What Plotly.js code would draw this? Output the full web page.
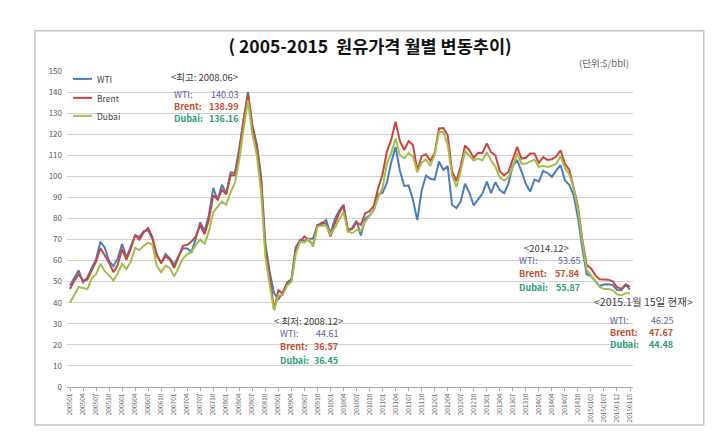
<!DOCTYPE html>
<html>
<head>
<meta charset="utf-8">
<script src="https://cdn.plot.ly/plotly-3.0.1.min.js"></script>
<style>
html,body{margin:0;padding:0;background:#ffffff;}
#chart{width:727px;height:439px;}
</style>
</head>
<body>
<div id="chart"></div>
<script>
// Category labels: month-end points 2005.01-2014.12, then daily points in January 2015
const periods = [
"200501","200502","200503","200504","200505","200506","200507","200508","200509","200510","200511","200512",
"200601","200602","200603","200604","200605","200606","200607","200608","200609","200610","200611","200612",
"200701","200702","200703","200704","200705","200706","200707","200708","200709","200710","200711","200712",
"200801","200802","200803","200804","200805","200806","200807","200808","200809","200810","200811","200812",
"200901","200902","200903","200904","200905","200906","200907","200908","200909","200910","200911","200912",
"201001","201002","201003","201004","201005","201006","201007","201008","201009","201010","201011","201012",
"201101","201102","201103","201104","201105","201106","201107","201108","201109","201110","201111","201112",
"201201","201202","201203","201204","201205","201206","201207","201208","201209","201210","201211","201212",
"201301","201302","201303","201304","201305","201306","201307","201308","201309","201310","201311","201312",
"201401","201402","201403","201404","201405","201406","201407","201408","201409","201410","201411","201412",
"20150102","20150105","20150106","20150107","20150108","20150109","20150112","20150113","20150114","20150115"
];

const wti = [
48.20,51.75,55.40,49.72,51.97,56.50,60.57,68.94,66.24,59.76,57.32,61.04,
67.92,61.41,66.63,71.88,71.29,73.93,74.40,70.26,62.91,58.73,63.13,61.05,
58.14,61.79,65.87,65.71,64.01,70.68,78.21,74.04,81.66,94.53,88.71,95.98,
91.75,101.84,101.58,113.46,127.35,140.03,124.08,115.46,100.64,68.10,54.43,44.61,
41.68,44.76,49.66,51.12,66.31,69.89,69.45,69.96,70.61,77.00,77.28,79.36,
72.89,79.66,83.76,86.15,73.97,75.63,78.95,71.92,79.97,81.43,84.11,91.38,
92.19,96.97,106.72,113.93,102.70,95.42,95.70,88.81,79.20,93.19,100.36,98.83,
98.48,107.07,103.02,104.87,86.53,84.96,88.06,96.47,92.19,86.24,88.91,91.82,
97.49,92.05,97.23,93.46,91.97,96.56,105.03,107.65,102.33,96.38,92.72,98.42,
97.49,102.59,101.58,99.74,102.71,105.37,98.17,95.96,91.16,80.54,66.15,53.65,
52.69,50.04,47.93,48.65,48.79,48.36,46.07,45.89,48.48,46.25
];

const brent = [
46.5,50.5,53.5,50.5,51.0,55.0,59.5,66.0,62.5,59.0,54.5,58.0,
65.5,60.5,65.5,72.0,70.0,73.5,75.5,71.0,62.5,59.0,62.0,60.5,
56.5,61.5,67.0,67.5,69.0,71.5,77.0,72.5,79.5,91.0,89.0,93.5,
91.5,100.5,100.5,111.5,127.0,138.99,124.0,114.5,98.5,65.5,53.0,36.57,
45.9,44.5,49.0,50.5,65.5,69.0,71.5,69.5,67.5,76.5,78.0,77.5,
71.5,77.5,82.5,86.5,74.5,75.0,78.0,77.0,82.5,83.5,86.0,94.5,
101.0,111.8,117.4,125.9,116.7,112.5,116.7,114.9,102.8,109.6,110.5,107.4,
111.0,122.7,122.9,119.5,102.4,97.8,104.9,114.6,112.4,108.7,111.2,111.1,
115.6,111.4,110.0,102.4,100.4,102.2,107.7,114.0,108.4,108.8,110.8,110.8,
106.4,109.1,107.8,108.1,109.4,112.4,106.0,103.2,94.7,85.9,70.2,57.84,
56.42,53.11,51.10,51.15,50.96,50.11,47.43,46.59,48.69,47.67
];

const dubai = [
40.0,43.5,47.5,47.0,46.5,51.5,53.5,58.5,55.0,53.0,50.5,54.0,
58.5,56.0,59.5,66.0,65.0,67.0,68.5,67.5,57.5,54.5,57.5,56.5,
52.5,56.5,61.0,63.0,64.0,67.5,70.0,68.0,74.0,83.0,85.5,88.0,
86.5,92.5,97.0,108.0,122.5,136.16,120.0,110.5,93.0,62.0,48.5,36.45,
43.5,43.5,48.0,50.0,63.0,69.0,68.5,70.5,66.5,76.0,76.5,76.5,
72.5,75.5,79.5,83.0,74.0,73.0,74.5,74.0,78.5,81.0,84.0,90.0,
94.5,106.0,111.0,118.0,110.0,108.5,111.0,109.5,102.0,106.5,108.0,105.0,
110.0,121.0,121.0,115.0,100.5,95.0,102.5,112.0,109.5,107.5,108.5,107.5,
111.5,107.5,104.5,99.5,98.0,99.5,104.5,111.0,106.0,106.0,107.0,108.0,
104.5,105.0,104.5,105.0,106.0,109.5,104.0,101.0,94.5,84.5,69.0,55.87,
53.0,50.5,47.5,46.5,46.5,46.0,44.0,43.5,44.5,44.48
];

const seriesNames = ["WTI","Brent","Dubai"];
const seriesColors = ["#4A7EBB","#C8463F","#A3BF4A"];
const textColors = ["#5A5EAA","#C2502E","#2E9C76"];
const calloutLabels = ["WTI:","Brent:","Dubai:"];

const titleText = "( 2005-2015  원유가격 월별 변동추이)";
const unitText = "(단위:$/bbl)";

const callouts = [
  {head:"<최고: 2008.06>", vals:["140.03","138.99","136.16"], cx:0.2438, xl:0.1855, xr:0.3057, hs:9.5, ys:[0.981,0.927,0.889,0.851]},
  {head:"< 최저: 2008.12>", vals:["44.61","36.57","36.45"], cx:0.4258, xl:0.3728, xr:0.4823, hs:9.5, ys:[0.209,0.168,0.127,0.084]},
  {head:"<2014.12>", vals:["53.65","57.84","55.87"], cx:0.8463, xl:0.7951, xr:0.9099, hs:9.5, ys:[0.440,0.399,0.358,0.316]},
  {head:"<2015.1월 15일 현재>", vals:["46.25","47.67","44.48"], cx:1.0194, xl:0.9558, xr:1.0742, hs:10.5, ys:[0.269,0.212,0.174,0.136]}
];

const FONT = "'Noto Sans CJK KR', 'Noto Sans', sans-serif";
const allSeries = [wti, brent, dubai];

const traces = allSeries.map((s, k) => ({
  type: "scatter",
  mode: "lines",
  x: periods,
  y: s,
  name: seriesNames[k],
  line: {color: seriesColors[k], width: 2},
  hoverinfo: "skip"
}));

const tickLabels = periods.filter((p, i) => i % 3 === 0);

const annotations = [];
const shapes = [];

// unit label
annotations.push({xref:"paper", yref:"paper", x:0.997, y:1.025, xanchor:"right", yanchor:"middle",
  text: unitText, showarrow:false, font:{family:FONT, size:9.5, color:"#666"}});

// custom legend
const legYs = [0.975, 0.915, 0.858];
seriesNames.forEach((n, k) => {
  shapes.push({type:"line", xref:"paper", yref:"paper", x0:0.0106, x1:0.0442, y0:legYs[k], y1:legYs[k],
    line:{color:seriesColors[k], width:2}});
  annotations.push({xref:"paper", yref:"paper", x:0.0495, y:legYs[k], xanchor:"left", yanchor:"middle",
    text:n, showarrow:false, font:{family:FONT, size:8.5, color:"#444"}});
});

// call-out texts
callouts.forEach(c => {
  annotations.push({xref:"paper", yref:"paper", x:c.cx, y:c.ys[0], xanchor:"center", yanchor:"middle",
    text:c.head, showarrow:false, font:{family:FONT, size:c.hs, color:"#404040"}});
  c.vals.forEach((v, k) => {
    const f = {family:FONT, size:9, color:textColors[k], weight: k === 0 ? "normal" : "bold"};
    annotations.push({xref:"paper", yref:"paper", x:c.xl, y:c.ys[k+1], xanchor:"left", yanchor:"middle",
      text: calloutLabels[k], showarrow:false, font:f});
    annotations.push({xref:"paper", yref:"paper", x:c.xr, y:c.ys[k+1], xanchor:"right", yanchor:"middle",
      text: v, showarrow:false, font:f});
  });
});

// outer frame
shapes.push({type:"rect", xref:"paper", yref:"paper", x0:-0.0565, x1:1.125, y0:-0.120, y1:1.127,
  line:{color:"#c4c4c4", width:1.5}, fillcolor:"rgba(0,0,0,0)", layer:"below"});

const layout = {
  width: 727, height: 439,
  margin: {l:67, r:94, t:71, b:52},
  paper_bgcolor: "#ffffff",
  plot_bgcolor: "#ffffff",
  showlegend: false,
  title: {text: titleText, x: 0.509, xanchor: "center", y: 0.893, yanchor: "middle",
    font: {family: FONT, size: 17.5, color: "#111", weight: "bold"}},
  xaxis: {
    type: "category",
    range: [-0.69, periods.length - 1 + 0.69],
    tickmode: "array", tickvals: tickLabels, ticktext: tickLabels,
    tickangle: -90,
    tickfont: {family: FONT, size: 6.5, color: "#666"},
    showgrid: false, zeroline: false,
    showline: true, linecolor: "#a6a6a6", linewidth: 1,
    ticks: "outside", ticklen: 3, tickcolor: "#a6a6a6"
  },
  yaxis: {
    range: [0, 150], dtick: 10, tick0: 0,
    tickfont: {family: FONT, size: 8, color: "#555"},
    gridcolor: "#d0d0d0", gridwidth: 1,
    zeroline: false, showline: false, ticks: "",
    ticklabelstandoff: 4
  },
  annotations: annotations,
  shapes: shapes
};

Plotly.newPlot("chart", traces, layout, {staticPlot: true, displayModeBar: false});
</script>
</body>
</html>
